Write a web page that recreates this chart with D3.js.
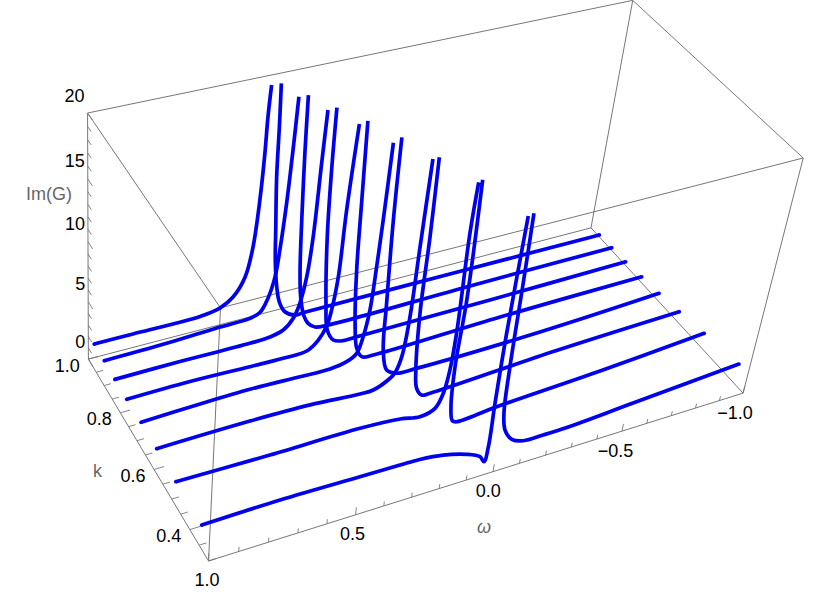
<!DOCTYPE html>
<html><head><meta charset="utf-8">
<style>html,body{margin:0;background:#fff}svg{display:block}text{font-family:"Liberation Sans",Arial,sans-serif;font-size:18px}</style>
</head><body><svg id="c" width="830" height="592"></svg>
<script src="https://cdn.jsdelivr.net/npm/d3@7"></script>
<script>
// ---- data: [omega, Im(G)]; null = gap where the peak leaves the plot
const kValues=[0.95,0.88,0.81,0.73,0.64,0.55,0.45,0.33];
const curve1=[[1.007,2.52],[0.871,2.53],[0.728,2.50],[0.630,2.55],[0.558,2.84],[0.511,3.52],[0.470,5.02],[0.447,7.46],[0.432,11.30],[0.424,15.06],[0.421,17.87],[0.415,20.29],null,[0.381,20.26],[0.378,16.88],[0.376,12.89],[0.367,8.71],[0.360,5.68],[0.348,3.42],[0.334,2.00],[0.310,0.98],[0.270,0.43],[0.225,0.45],[-0.348,0.45],[-0.989,0.42]];
const curve2=[[1.011,2.72],[0.793,2.81],[0.614,3.01],[0.493,3.09],[0.457,3.38],[0.430,4.48],[0.409,6.20],[0.398,8.40],[0.385,12.21],[0.375,16.63],[0.368,20.45],null,[0.335,20.43],[0.332,15.94],[0.325,10.49],[0.317,6.23],[0.307,3.84],[0.290,2.12],[0.270,1.24],[0.242,0.74],[0.190,0.60],[-0.374,0.70],[-0.978,0.74]];
const curve3=[[1.014,2.77],[0.788,2.81],[0.538,2.77],[0.465,2.85],[0.417,3.16],[0.382,4.00],[0.362,5.17],[0.344,7.32],[0.332,10.59],[0.323,16.44],[0.316,20.49],null,[0.285,20.52],[0.285,15.72],[0.280,10.30],[0.263,4.54],[0.249,2.10],[0.222,1.03],[0.183,0.72],[0.131,0.75],[-0.399,0.79],[-0.974,0.92]];
const curve4=[[1.019,3.00],[0.802,3.05],[0.590,2.92],[0.470,2.86],[0.384,2.94],[0.344,3.64],[0.317,4.69],[0.304,5.98],[0.290,8.72],[0.282,14.12],[0.265,20.68],null,[0.236,20.77],[0.230,14.40],[0.224,8.89],[0.210,4.25],[0.194,1.94],[0.171,1.04],[0.126,0.90],[-0.372,1.17],[-0.967,1.27]];
const curve5=[[1.023,3.25],[0.823,3.42],[0.650,3.49],[0.472,3.37],[0.363,3.32],[0.303,3.56],[0.268,4.06],[0.250,5.38],[0.235,7.56],[0.227,11.11],[0.221,14.83],[0.214,20.72],null,[0.186,20.99],[0.184,14.63],[0.175,7.76],[0.168,3.70],[0.146,1.78],[0.105,1.22],[0.029,1.15],[-0.458,1.28],[-0.953,1.77]];
const curve6=[[1.024,3.25],[0.708,3.34],[0.497,3.25],[0.316,2.95],[0.268,2.97],[0.209,3.60],[0.193,3.95],[0.174,5.24],[0.161,8.55],[0.155,14.21],[0.147,20.90],null,[0.125,20.92],[0.123,14.82],[0.125,8.61],[0.114,3.69],[0.102,1.99],[0.079,1.23],[0.047,1.17],[-0.438,1.74],[-0.951,2.07]];
const curve7=[[1.020,2.97],[0.704,2.88],[0.388,2.90],[0.242,2.67],[0.168,2.35],[0.114,2.71],[0.090,3.86],[0.077,5.78],[0.071,8.84],[0.073,16.90],[0.067,20.71],null,[0.054,20.84],[0.050,11.46],[0.059,5.95],[0.053,2.43],[0.040,1.09],[0.022,0.87],[-0.129,1.16],[-0.533,1.63],[-0.958,2.29]];
const curve8=[[1.008,2.35],[0.748,2.45],[0.473,2.35],[0.331,2.30],[0.260,2.26],[0.173,2.00],[0.083,1.40],[0.030,0.80],[0.011,0.21],[0.003,1.49],[0.004,5.29],[0.002,11.13],[-0.009,20.20],null,[-0.028,20.30],[-0.030,14.93],[-0.031,8.16],[-0.037,4.14],[-0.052,2.57],[-0.085,1.51],[-0.132,1.04],[-0.209,1.00],[-0.300,1.02],[-0.559,1.41],[-0.989,2.05]];
const curves=[curve1,curve2,curve3,curve4,curve5,curve6,curve7,curve8];
const omegaDomain=[1,-1], kDomain=[1,0.3], imDomain=[0,20];
const omegaLabels=[1,0.5,0,-0.5,-1], kLabels=[1,0.8,0.6,0.4], imLabels=[0,5,10,15,20];

// ---- scales to the unit box
const U=d3.scaleLinear().domain(omegaDomain).range([0,1]);
const V=d3.scaleLinear().domain(kDomain).range([0,1]);
const W=d3.scaleLinear().domain(imDomain).range([0,1]);

// ---- perspective camera calibrated on the eight box corners (u,v,w -> page x,y)
const cameraAnchors=[[0,0,0,88,359],[0,1,0,209,561],[1,0,0,591,228],[1,1,0,743,393],[0,0,1,88,113],[0,1,1,220,308],[1,0,1,632.7,0.3],[1,1,1,803.3,158]];
function solveCamera(){
  const A=[],B=[];
  cameraAnchors.forEach(([u,v,w,x,y])=>{
    A.push([u,v,w,1,0,0,0,0,-x*u,-x*v,-x*w]);B.push(x);
    A.push([0,0,0,0,u,v,w,1,-y*u,-y*v,-y*w]);B.push(y);
  });
  const n=11,M=[];
  for(let i=0;i<n;i++){M.push([]);for(let j=0;j<=n;j++){let s=0;for(let r=0;r<A.length;r++)s+=A[r][i]*(j<n?A[r][j]:B[r]);M[i].push(s);}}
  for(let i=0;i<n;i++){let p=i;for(let r=i;r<n;r++)if(Math.abs(M[r][i])>Math.abs(M[p][i]))p=r;[M[i],M[p]]=[M[p],M[i]];
    for(let r=0;r<n;r++)if(r!==i){const f=M[r][i]/M[i][i];for(let j=i;j<=n;j++)M[r][j]-=f*M[i][j];}}
  return M.map((r,i)=>r[n]/r[i]);
}
const P=solveCamera();
function cam(u,v,w){const d=P[8]*u+P[9]*v+P[10]*w+1;return[(P[0]*u+P[1]*v+P[2]*w+P[3])/d,(P[4]*u+P[5]*v+P[6]*w+P[7])/d];}
const project=(om,k,im)=>cam(U(om),V(k),W(im));

const svg=d3.select('#c');
const GRAY='#777';
const seg=(g,a,b,w)=>g.append('line').attr('x1',a[0]).attr('y1',a[1]).attr('x2',b[0]).attr('y2',b[1]).attr('stroke',GRAY).attr('stroke-width',w);

// ---- box edges
const box=svg.append('g');
const vtx=[[0,0,0],[1,0,0],[1,1,0],[0,1,0],[0,0,1],[1,0,1],[1,1,1],[0,1,1]];
[[0,1],[1,2],[2,3],[3,0],[4,5],[5,6],[6,7],[7,4],[0,4],[1,5],[2,6],[3,7]].forEach(([a,b])=>seg(box,cam(...vtx[a]),cam(...vtx[b]),1));

// ---- ticks
const ticks=svg.append('g');
const major=(v,list)=>list.some(m=>Math.abs(m-v)<1e-6);
U.ticks(20).forEach(om=>{const L=major(om,omegaLabels)?0.033:0.02;
  seg(ticks,cam(U(om),1,0),cam(U(om),1,L),0.9);});
V.ticks(14).forEach(k=>{const L=major(k,kLabels)?0.017:0.012;
  seg(ticks,cam(0,V(k),0),cam(L,V(k),0),0.9);});
W.ticks(20).forEach(z=>{const L=major(z,imLabels)?0.04:0.03;
  seg(ticks,cam(0,0,W(z)),cam(0,L,W(z)),0.9);});

// ---- tick labels
const fmt=d3.format('.1f');
const minus=s=>s.replace('-','\u2212');
const label=(x,y,t,anchor)=>svg.append('text').attr('x',x).attr('y',y).attr('dy','0.36em').attr('text-anchor',anchor||'middle').attr('fill','#000').text(t);
const omegaShift=d3.scaleLinear().domain(omegaDomain).range([-1.5,-8]);
omegaLabels.forEach(om=>{const p=project(om,kDomain[1],0);label(p[0]+omegaShift(om),p[1]+19,minus(fmt(om)));});
kLabels.forEach(k=>{const p=project(omegaDomain[0],k,0);label(p[0]-21,p[1]+6,fmt(k));});
imLabels.forEach(z=>{const p=project(omegaDomain[0],kDomain[0],z);label(p[0]-3,p[1]-18,String(z),'end');});

// ---- axis titles
const title=(x,y,t,it)=>svg.append('text').attr('x',x).attr('y',y).attr('dy','0.36em').attr('text-anchor','middle').attr('fill','#666').attr('font-style',it?'italic':null).text(t);
title(49,194,'Im(G)');
title(97.5,471,'k');
title(484,527,'\u03c9',true);

// ---- curves: flat cuts at the clipped peak tops, round outer ends
const LW=3.7;
const g=svg.append('g');
curves.forEach((c,i)=>{
  const k=kValues[i];
  const line=d3.line().defined(d=>d!==null).x(d=>project(d[0],k,d[1])[0]).y(d=>project(d[0],k,d[1])[1]).curve(d3.curveCatmullRom.alpha(0.5));
  g.append('path').attr('d',line(c)).attr('fill','none').attr('stroke','#0000f0').attr('stroke-width',LW).attr('stroke-linejoin','round').attr('stroke-linecap','butt');
  [c[0],c[c.length-1]].forEach(d=>{const p=project(d[0],k,d[1]);
    g.append('circle').attr('cx',p[0]).attr('cy',p[1]).attr('r',LW/2).attr('fill','#0000f0');});
});
</script></body></html>
